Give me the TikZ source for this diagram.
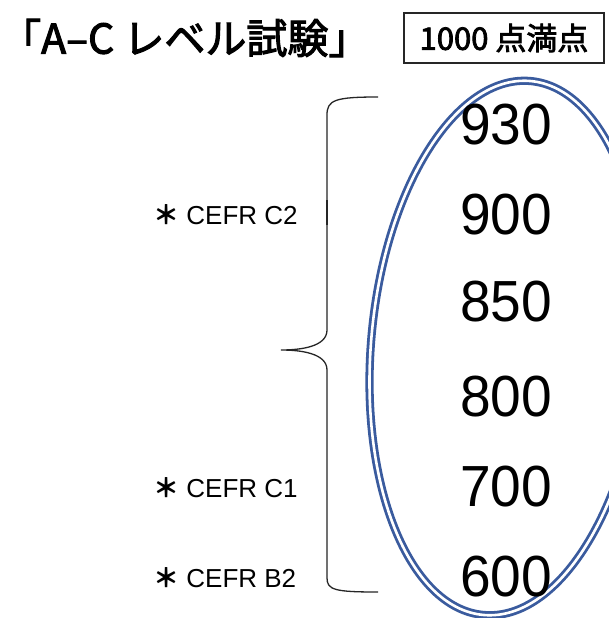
\documentclass[tikz,border=0pt]{standalone}
\usepackage{fontspec}
\setmainfont{Liberation Sans}
\newfontfamily\cjk{Noto Sans CJK JP}
\newfontfamily\cjkmed[FakeBold=2.5]{Noto Sans CJK JP}
\definecolor{ovalblue}{HTML}{3A5B9E}
\begin{document}
\begin{tikzpicture}[x=1pt,y=-1pt,
  num/.style={font=\fontsize{58}{58}\selectfont, inner sep=0pt, anchor=center},
  cefr/.style={font=\fontsize{26}{26}\selectfont, inner sep=0pt, anchor=west},
  brace/.style={draw=black!85, line width=1.3pt},
  oval/.style={draw=ovalblue, line width=2.8pt, double=white, double distance=2.6pt}]
\useasboundingbox (0,0) rectangle (609,618);
\fill[white] (0,0) rectangle (609,618);
% title
\node[font=\cjkmed\fontsize{41}{41}\selectfont, inner sep=0pt, anchor=west] (title) at (0,38) {「A–C レベル試験」};
% box
\node[draw=black!85, line width=1.5pt, minimum width=200pt, minimum height=50pt, inner sep=0pt,
      font=\cjkmed\fontsize{31}{31}\selectfont] (box) at (504,38) {1000 点満点};
% oval
\draw[oval, rotate around={-5:(507,348)}] (507,348) ellipse [x radius=136, y radius=268];
% numbers
\node[num] (n930) at (506,125) {\scalebox{0.95}[1]{930}};
\node[num] (n900) at (506,215) {\scalebox{0.95}[1]{900}};
\node[num] (n850) at (506,302) {\scalebox{0.95}[1]{850}};
\node[num] (n800) at (506,397) {\scalebox{0.95}[1]{800}};
\node[num] (n700) at (506,487) {\scalebox{0.95}[1]{700}};
\node[num] (n600) at (506,577) {\scalebox{0.95}[1]{600}};
% brace
\coordinate (btop) at (378,97);
\coordinate (bmid) at (281,350);
\coordinate (bbot) at (378,592);
\draw[brace] (btop) .. controls (335,97) and (327,100) .. (327,115)
  -- (327,330) .. controls (327,347) and (300,350) .. (bmid)
  .. controls (300,350) and (327,353) .. (327,370)
  -- (327,578) .. controls (327,590) and (335,592) .. (bbot);
\draw[line width=2pt, black!85] (327,200) -- (327,225);
% CEFR labels
\node[cefr] (c2) at (153,215) {{\cjk\bfseries ＊} CEFR C2};
\node[cefr] (c1) at (153,488) {{\cjk\bfseries ＊} CEFR C1};
\node[cefr] (b2) at (153,578) {{\cjk\bfseries ＊} CEFR B2};
\end{tikzpicture}
\end{document}
